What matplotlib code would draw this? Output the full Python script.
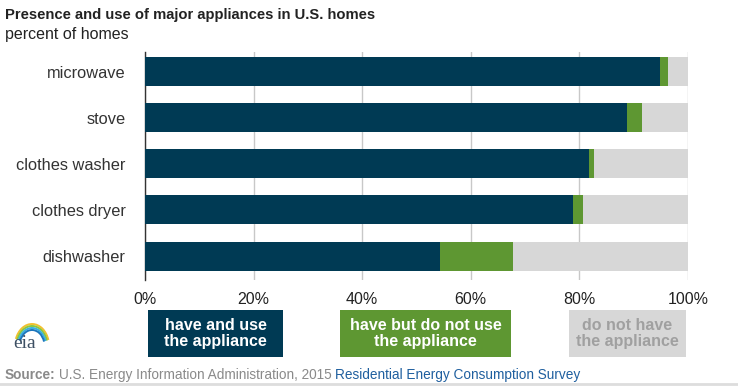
import matplotlib
matplotlib.use('agg')
import matplotlib.pyplot as plt
from matplotlib.patches import Rectangle, Arc

plt.rcParams['font.family'] = ['Liberation Sans', 'DejaVu Sans']

appliances = ["microwave", "stove", "clothes washer", "clothes dryer", "dishwasher"]
have_use = [94.9, 88.8, 81.7, 78.9, 54.4]
have_not_use = [1.4, 2.8, 0.9, 1.7, 13.4]
not_have = [100 - a - b for a, b in zip(have_use, have_not_use)]
ticks = [0, 20, 40, 60, 80, 100]
tick_labels = ["0%", "20%", "40%", "60%", "80%", "100%"]
legend_labels = ["have and use\nthe appliance", "have but do not use\nthe appliance", "do not have\nthe appliance"]

dark = "#003a54"
green = "#5e9732"
grey = "#d7d7d7"

W, H = 738, 386
fig = plt.figure(figsize=(W / 100, H / 100), dpi=100)
ax = fig.add_axes([145 / W, 1 - 280 / H, (688 - 145) / W, (280 - 52) / H])

y = list(range(len(appliances)))
ax.barh(y, have_use, height=0.63, color=dark, zorder=3)
ax.barh(y, have_not_use, left=have_use, height=0.63, color=green, zorder=3)
left2 = [a + b for a, b in zip(have_use, have_not_use)]
ax.barh(y, not_have, left=left2, height=0.63, color=grey, zorder=3)

ax.set_xlim(0, 100)
ax.set_ylim(4.52, -0.43)
ax.set_xticks(ticks)
ax.set_xticklabels(tick_labels, fontsize=11.5, color="#222222")
ax.set_yticks(y)
ax.set_yticklabels(appliances, fontsize=11.8, color="#333333")
ax.tick_params(axis='y', length=0, pad=14)
ax.tick_params(axis='x', length=0, pad=9)
ax.grid(axis='x', color="#c8c8c8", linewidth=1, zorder=0)
for s in ["top", "right", "bottom"]:
    ax.spines[s].set_visible(False)
ax.spines["left"].set_color("#333333")
ax.spines["left"].set_linewidth(1)

fig.text(5 / W, 1 - 15 / H, "Presence and use of major appliances in U.S. homes",
         fontsize=10.6, fontweight='bold', color="#222222", va='center')
fig.text(5 / W, 1 - 35 / H, "percent of homes", fontsize=11.5, color="#222222", va='center')

# legend boxes
boxes = [(148, 283, dark, "white"), (340, 511, green, "white"), (569, 686, grey, "#a0a0a0")]
for (x0, x1, fc, tc), lab in zip(boxes, legend_labels):
    fig.patches.append(Rectangle((x0 / W, 1 - 357 / H), (x1 - x0) / W, 47 / H,
                                 transform=fig.transFigure, facecolor=fc, edgecolor='none'))
    fig.text((x0 + x1) / 2 / W, 1 - 333.5 / H, lab, ha='center', va='center',
             fontsize=11.5, fontweight='bold', color=tc, linespacing=1.05)

# eia logo, rough
fig.text(25 / W, 1 - 343 / H, "eia", fontsize=14, color="#3d4f63", ha='center', va='center',
         fontfamily="Liberation Serif")
for i, c in enumerate(["#f2c12e", "#8cc63f", "#39b0e0", "#1b75bc"]):
    fig.patches.append(Arc((32 / W, 1 - 346 / H), (34 - i * 3) / W, (44 - i * 4) / H,
                           theta1=35, theta2=140, transform=fig.transFigure,
                           color=c, linewidth=1.4))

# source line
t = fig.text(5 / W, 1 - 375 / H, "Source:", fontsize=9.8, fontweight='bold', color="#8a8a8a", va='center')
fig.canvas.draw()
bb = t.get_window_extent()
t2 = fig.text(bb.x1 / W + 3 / W, 1 - 375 / H, "U.S. Energy Information Administration, 2015",
              fontsize=9.8, color="#8a8a8a", va='center')
fig.canvas.draw()
bb2 = t2.get_window_extent()
fig.text(bb2.x1 / W + 4 / W, 1 - 375 / H, "Residential Energy Consumption Survey",
         fontsize=9.8, color="#1f5f9f", va='center')
fig.add_artist(plt.Line2D([0, 1], [1 - 384 / H, 1 - 384 / H], transform=fig.transFigure,
                          color="#dddddd", linewidth=2))

fig.savefig("out.png", dpi=100)
